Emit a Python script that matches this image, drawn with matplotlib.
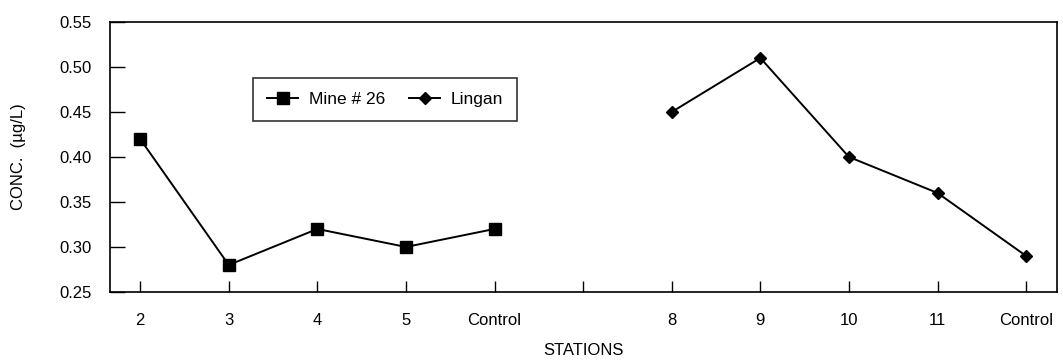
import numpy as np
import matplotlib
matplotlib.use("Agg")
import matplotlib.pyplot as plt

plt.rcParams['font.family'] = ['Liberation Sans', 'DejaVu Sans']

# station labels along the x axis (blank slot separates the two sites)
stations = ['2', '3', '4', '5', 'Control', '', '8', '9', '10', '11', 'Control']

mine_idx = [0, 1, 2, 3, 4]
mine_vals = [0.42, 0.28, 0.32, 0.30, 0.32]

lingan_idx = [6, 7, 8, 9, 10]
lingan_vals = [0.45, 0.51, 0.40, 0.36, 0.29]

yticks = [0.25, 0.30, 0.35, 0.40, 0.45, 0.50, 0.55]

fig = plt.figure(figsize=(10.63, 3.6), dpi=100)
ax = fig.add_axes([0.1035, 0.189, 0.891, 0.75])

ax.plot(mine_idx, mine_vals, color='black', lw=1.4, marker='s', ms=9,
        label='Mine # 26')
ax.plot(lingan_idx, lingan_vals, color='black', lw=1.4, marker='D', ms=6,
        label='Lingan')

ax.set_xlim(-0.34, 10.35)
ax.set_ylim(0.25, 0.55)
ax.set_xticks(range(len(stations)))
ax.set_xticklabels(stations)
ax.set_yticks(yticks)
ax.set_yticklabels([f'{v:.2f}' for v in yticks])

ax.tick_params(axis='x', direction='in', length=8, width=1, pad=15,
               labelsize=12)
ax.tick_params(axis='y', direction='in', length=11, width=1, pad=13,
               labelsize=12)
for s in ax.spines.values():
    s.set_linewidth(1.2)
    s.set_color('black')

ax.set_xlabel('STATIONS', fontsize=12, labelpad=11)
ax.set_ylabel('CONC.  (\u00b5g/L)', fontsize=12, labelpad=24)

leg = ax.legend(loc='upper left', bbox_to_anchor=(0.151, 0.793),
                ncol=2, fancybox=False, frameon=True,
                edgecolor='black', fontsize=12.5, handlelength=1.8,
                columnspacing=1.4, borderpad=0.8, handletextpad=0.6,
                borderaxespad=0.0)
leg.get_frame().set_linewidth(1.2)

fig.savefig('out.png', dpi=100)
